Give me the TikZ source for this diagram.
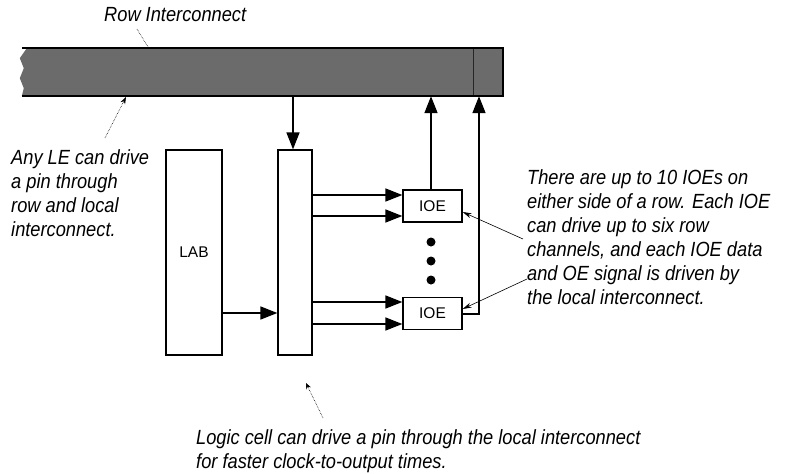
\documentclass[tikz,border=0pt]{standalone}
\usepackage{fontspec}
\setmainfont{Liberation Sans}
\newfontfamily\notefont[FakeStretch=0.89]{Liberation Sans}
\usetikzlibrary{arrows.meta,positioning}

\tikzset{
  block/.style={draw, line width=1.3pt, fill=white, inner sep=0pt, font=\fontsize{15.5}{15.5}\selectfont},
  wire/.style={line width=1.6pt},
  note/.style={font=\notefont\itshape\fontsize{20.5}{24}\selectfont, align=left, inner sep=0pt},
  leader/.style={line width=0.6pt, -{Stealth[length=9pt,width=5pt]}},
  dotleader/.style={line width=0.6pt, densely dotted},
}

\begin{document}
\begin{tikzpicture}[x=1pt, y=-1pt, >={Triangle[length=17pt,width=13pt]}]
    \useasboundingbox (0,0) rectangle (785,474);

    % Row interconnect bar with a torn left end
    \node[inner sep=0, minimum width=481pt, minimum height=48pt] (row) at (262.5,72) {};
    \fill[black!58] (row.north east) -- (row.south east) -- (row.south west) -- ++(2,-8)
        -- ++(-4,-10) -- ++(4,-10) -- ++(-4,-10) -- ++(7,-10) -- cycle;
    \draw[line width=1.6pt] (row.north west) -- (row.north east) -- (row.south east) -- (row.south west);
    \draw[black!85, line width=0.8pt] (473,49) -- (473,95);

    % Blocks
    \node[block, minimum width=56pt, minimum height=205pt] (lab) at (194,252.5) {LAB};
    \node[block, minimum width=34pt, minimum height=205pt] (lic) at (295,252.5) {};
    \node[block, minimum width=59pt, minimum height=32pt] (ioeA) at (432.5,206) {IOE};
    \node[block, minimum width=59pt, minimum height=32pt] (ioeB) at (432.5,313.5) {IOE};

    % Dots between the IOEs
    \foreach \y in {242,261,280}
        \fill (431,\y) circle (4.5pt);

    % Signal paths
    \draw[wire, ->] (row.south -| 293,0) -- (lic.north -| 293,0);
    \draw[wire, ->] (lab.east |- 0,313) -- (lic.west |- 0,313);
    \foreach \y in {195,216}
        \draw[wire, ->] (lic.east |- 0,\y) -- (ioeA.west |- 0,\y);
    \foreach \y in {302,324}
        \draw[wire, ->] (lic.east |- 0,\y) -- (ioeB.west |- 0,\y);
    \draw[wire, ->] (ioeA.north -| 431,0) -- (row.south -| 431,0);
    \draw[wire, ->] (ioeB.east |- 0,314) -| (row.south -| 479,0);

    % Labels
    \node[note, anchor=north west] (rowlabel) at (104,7) {Row Interconnect};
    \node[note, anchor=north west] (anyle) at (11,149) {Any LE can drive\\a pin through\\row and local\\interconnect.};
    \node[note, anchor=north west] (ioenote) at (527,169) {There are up to 10 IOEs on\\either side of a row. Each IOE\\can drive up to six row\\channels, and each IOE data\\and OE signal is driven by\\the local interconnect.};
    \node[note, anchor=north west] (lcnote) at (196,429) {Logic cell can drive a pin through the local interconnect\\for faster clock-to-output times.};

    % Leaders
    \coordinate (rowtip) at (148,47);
    \coordinate (anytip) at (126,97);
    \coordinate (lictip) at (306,383);
    \draw[dotleader] (137,29) -- (rowtip);
    \draw[dotleader, -{Stealth[length=7pt,width=5pt]}] (105,138) -- (anytip);
    \draw[dotleader, -{Stealth[length=6pt,width=5pt]}] (323,418) -- (lictip);
    \draw[leader] (523,239) -- (ioeA.east |- 0,212);
    \draw[leader] (527,279) -- (ioeB.east |- 0,309);
\end{tikzpicture}
\end{document}
